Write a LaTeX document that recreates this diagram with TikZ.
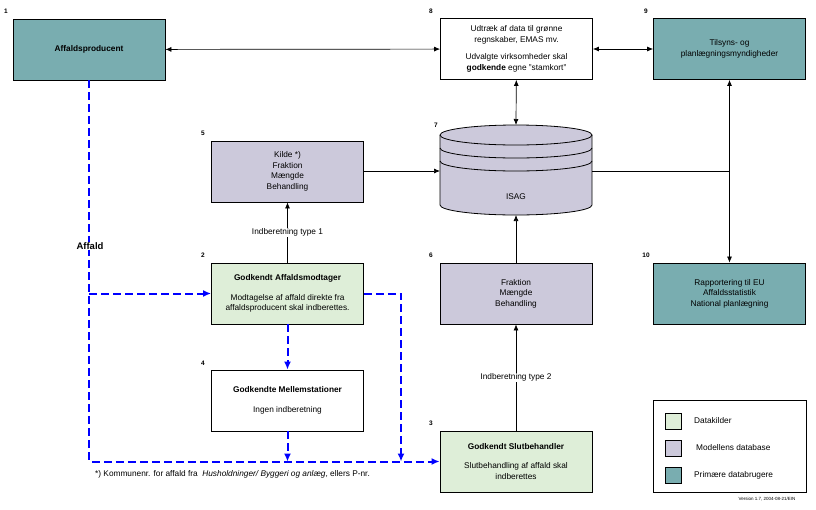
\documentclass[tikz,border=0pt]{standalone}
\usepackage{fontspec}
\setmainfont{Liberation Sans}
\usetikzlibrary{arrows.meta}
\definecolor{brugerteal}{HTML}{79ADB0}
\definecolor{baselilla}{HTML}{CCC9DB}
\definecolor{kildegroen}{HTML}{DEEED8}

\begin{document}
\begin{tikzpicture}[x=1pt,y=-1pt,>={Latex[length=6pt,width=5pt]},
  kasse/.style={draw,line width=0.8pt,minimum width=152pt,minimum height=61pt,inner sep=0pt,align=center,font=\fontsize{8.3}{10.5}\selectfont},
  nr/.style={font=\fontsize{6.5}{8}\selectfont\bfseries,inner sep=0pt},
  pil/.style={line width=0.7pt},
  affaldpil/.style={blue,line width=2pt,dash pattern=on 8pt off 4pt,-{Latex[length=8pt,width=7pt]}},
  tekst/.style={font=\fontsize{8.3}{10}\selectfont,inner sep=1pt}]
\useasboundingbox (0,0) rectangle (816,509);
% kasser
\node[kasse,fill=brugerteal] (prod) at (89,49.5) {\bfseries Affaldsproducent};
\node[kasse] (udtraek) at (516.5,49) {Udtræk af data til grønne\\regnskaber, EMAS mv.\\[7pt]Udvalgte virksomheder skal\\\textbf{godkende} egne "stamkort"};
\node[kasse,fill=brugerteal] (tilsyn) at (729.5,49) {Tilsyns- og\\planlægningsmyndigheder};
\node[kasse,fill=baselilla] (kilde) at (287.5,171.5) {Kilde *)\\Fraktion\\Mængde\\Behandling};
\node[kasse,fill=kildegroen] (modt) at (287.5,293.5) {\bfseries Godkendt Affaldsmodtager\\[9pt]Modtagelse af affald direkte fra\\affaldsproducent skal indberettes.};
\node[kasse,fill=baselilla] (fraktion) at (516,293.5) {Fraktion\\Mængde\\Behandling};
\node[kasse,fill=brugerteal] (rapport) at (729.5,293.5) {Rapportering til EU\\Affaldsstatistik\\National planlægning};
\node[kasse] (mellem) at (287.5,400.5) {\bfseries Godkendte Mellemstationer\\[9pt]Ingen indberetning};
\node[kasse,fill=kildegroen] (slut) at (516,461.5) {\bfseries Godkendt Slutbehandler\\[9pt]Slutbehandling af affald skal\\indberettes};
% ISAG database
\fill[baselilla] (440,135) -- (440,205) arc[start angle=180,end angle=0,x radius=76,y radius=10] -- (592,135) arc[start angle=0,end angle=-180,x radius=76,y radius=10] -- cycle;
\draw[line width=0.8pt] (440,135) -- (440,205) arc[start angle=180,end angle=0,x radius=76,y radius=10] -- (592,135);
\draw[line width=0.8pt] (516,135) ellipse [x radius=76,y radius=10];
\draw[line width=0.8pt] (440,148) arc[start angle=180,end angle=0,x radius=76,y radius=10];
\draw[line width=0.8pt] (440,161) arc[start angle=180,end angle=0,x radius=76,y radius=10];
\node[tekst] (isag) at (516,197) {ISAG};
\coordinate (isagtop) at (516,125);
\coordinate (isagbund) at (516,215);
\coordinate (isagvest) at (440,171);
\coordinate (isagoest) at (592,171);
% numre
\node[nr] (n1) at (6,11) {1};
\node[nr] (n8) at (431,11) {8};
\node[nr] (n9) at (646,11) {9};
\node[nr] (n5) at (203,133) {5};
\node[nr] (n7) at (436,125) {7};
\node[nr] (n2) at (203,255) {2};
\node[nr] (n6) at (431,255) {6};
\node[nr] (n10) at (646,255) {10};
\node[nr] (n4) at (203,363) {4};
\node[nr] (n3) at (431,423) {3};
% sorte pile
\draw[pil,<->] (prod) -- (udtraek);
\draw[pil,<->] (udtraek) -- (tilsyn);
\draw[pil,<->] (udtraek) -- (isagtop);
\draw[pil,->] (kilde.east |- isagvest) -- (isagvest);
\coordinate (knude) at (tilsyn.south |- isagoest);
\draw[pil] (isagoest) -- (knude);
\draw[pil,<->] (tilsyn) -- (rapport);
\draw[pil,->] (fraktion) -- (isagbund);
\draw[pil,->] (modt) -- node[tekst,fill=white] (type1) {Indberetning type 1} (kilde);
\draw[pil,->] (slut) -- node[tekst,fill=white] (type2) {Indberetning type 2} (fraktion);
% affaldsstroemme
\coordinate (hoejre) at (401,461.5);
\draw[affaldpil] (prod.south) |- (slut.west);
\draw[affaldpil] (prod.south |- modt.west) -- (modt.west);
\draw[affaldpil] (modt.east) -| (hoejre);
\draw[affaldpil] (modt) -- (mellem);
\draw[affaldpil] (mellem.south) -- (mellem.south |- slut.west);
\node[font=\fontsize{9.5}{10}\selectfont\bfseries,fill=white,inner sep=1pt] (affald) at (90,246) {Affald};
% fodnote
\node[tekst,anchor=west] (fodnote) at (94,474) {*) Kommunenr. for affald fra \ \textit{Husholdninger/ Byggeri og anlæg}, ellers P-nr.};
% signaturforklaring
\node[draw,line width=0.8pt,minimum width=153pt,minimum height=92pt] (legende) at (729.5,446) {};
\node[draw,fill=kildegroen,minimum width=16pt,minimum height=16pt] (sw1) at (673,421) {};
\node[draw,fill=baselilla,minimum width=16pt,minimum height=16pt] (sw2) at (673,448) {};
\node[draw,fill=brugerteal,minimum width=16pt,minimum height=16pt] (sw3) at (673,475) {};
\node[tekst,anchor=west] (lt1) at (693,421) {Datakilder};
\node[tekst,anchor=west] (lt2) at (695,448) {Modellens database};
\node[tekst,anchor=west] (lt3) at (693,475) {Primære databrugere};
\node[font=\fontsize{4.5}{5}\selectfont,inner sep=0pt] (version) at (767,499) {Version 1.7, 2004-08-21/EIN};
\end{tikzpicture}
\end{document}
